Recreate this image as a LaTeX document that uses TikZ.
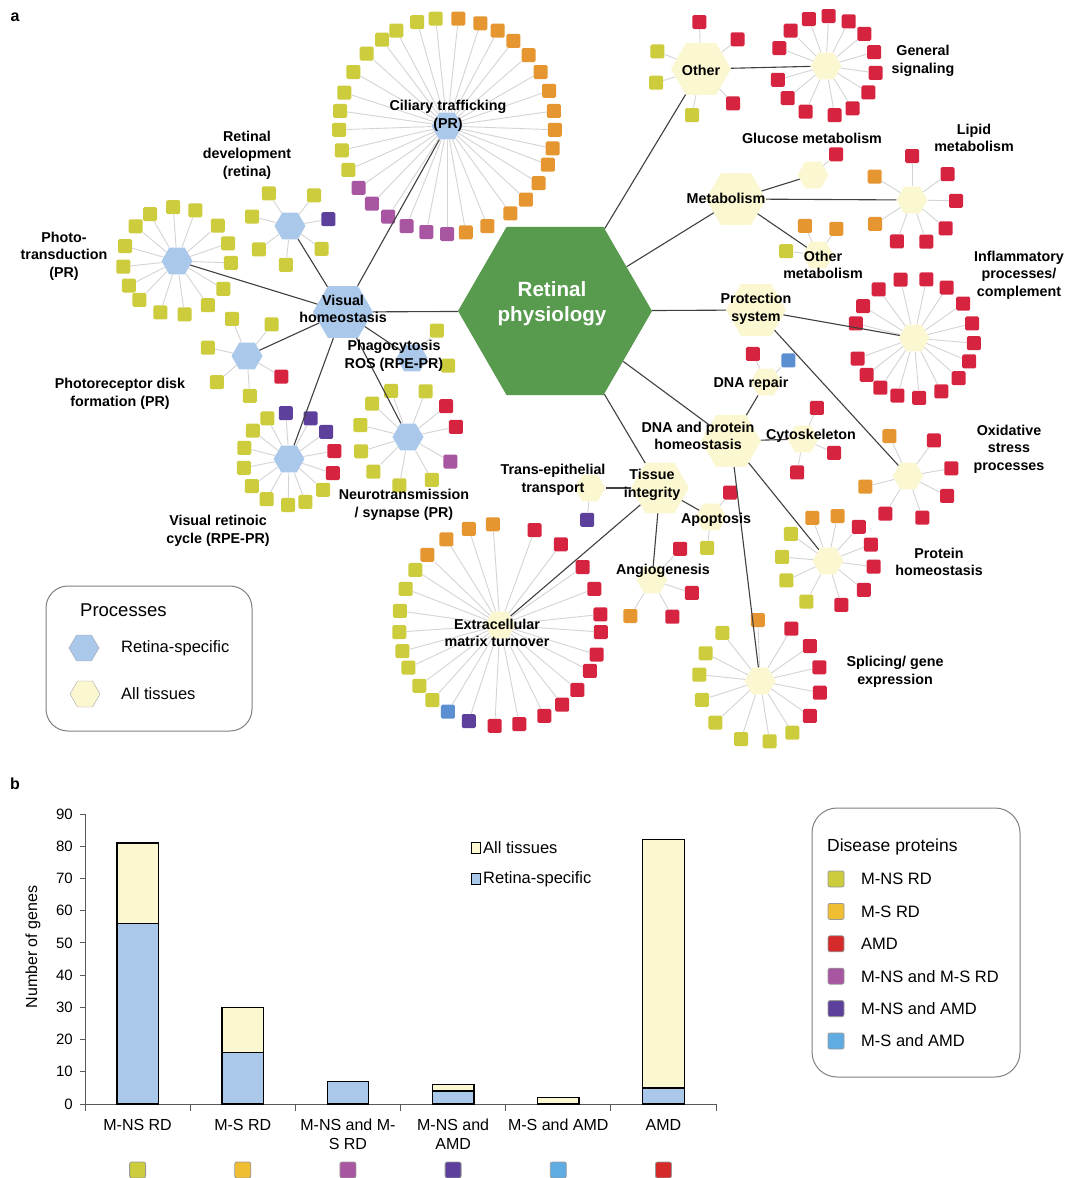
\documentclass[tikz,border=0pt]{standalone}
\usepackage{fontspec}
\setmainfont{Liberation Sans}
\usetikzlibrary{calc, shapes.geometric}

\definecolor{physgreen}{RGB}{88,154,78}
\definecolor{retblue}{RGB}{170,200,234}
\definecolor{alltis}{RGB}{251,247,208}
\definecolor{mns}{RGB}{204,204,60}
\definecolor{ms}{RGB}{230,150,48}
\definecolor{amd}{RGB}{214,36,64}
\definecolor{mnsms}{RGB}{168,86,162}
\definecolor{mnsamd}{RGB}{92,64,156}
\definecolor{msamd}{RGB}{92,142,210}
\definecolor{msl}{RGB}{240,190,50}
\definecolor{amdl}{RGB}{212,42,42}
\definecolor{msamdl}{RGB}{94,172,226}
\definecolor{spokegray}{RGB}{212,212,212}
\definecolor{linkgray}{RGB}{64,64,64}

\tikzset{
	hexa/.style={regular polygon, regular polygon sides=6, inner sep=0pt, minimum size=#1},
	hub/.style={hexa=60pt},
	sub/.style={hexa=31pt},
	rspec/.style={fill=retblue},
	allt/.style={fill=alltis},
	leaf/.style={rectangle, minimum size=14pt, inner sep=0pt, rounded corners=1.5pt},
	spoke/.style={draw=spokegray, line width=0.9pt},
	link/.style={draw=linkgray, line width=1.1pt},
	lbl/.style={font=\fontsize{14.3}{17.5}\selectfont\bfseries, align=center, inner sep=0pt},
	keytext/.style={font=\fontsize{16.5}{19}\selectfont, anchor=west, inner sep=0pt},
	swatch/.style={rectangle, minimum size=16pt, inner sep=0pt, rounded corners=2pt, draw=gray!80, line width=0.8pt},
	barseg/.style={draw=black, line width=1.3pt},
	axnum/.style={font=\fontsize{15}{17}\selectfont, inner sep=0pt},
	catlbl/.style={font=\fontsize{16}{18.5}\selectfont, align=center, inner sep=0pt, anchor=north}
}

% leaves round a process: hub, radius, angle/colour list
\newcommand{\leafset}[3]{%
	\foreach \a/\c [count=\i] in {#3} {
		\node[leaf, fill=\c] (#1-\i) at ($(#1)+(\a:#2)$) {};
		\draw[spoke] (#1) -- (#1-\i);
	}}

\begin{document}
\begin{tikzpicture}[x=1pt, y=-1pt]
	\fill[white] (0,0) rectangle (1077,1178);
	\useasboundingbox (0,0) rectangle (1077,1178);

	% processes
	\node[hexa=194pt, fill=physgreen] (phys) at (555,311) {};
	\node[hub, rspec] (vh) at (343,312) {};
	\node[hub, allt] (other) at (701,69) {};
	\node[hub, allt] (metab) at (736,199) {};
	\node[hub, allt] (prot) at (756,310) {};
	\node[hub, allt] (dnap) at (731,441) {};
	\node[hexa=58pt, allt] (tissue) at (660,488) {};

	\node[sub, rspec] (cil) at (447,126) {};
	\node[sub, rspec] (rdev) at (290,226) {};
	\node[sub, rspec] (photo) at (177,261) {};
	\node[sub, rspec] (disk) at (247,356) {};
	\node[sub, rspec] (cycle) at (289,459) {};
	\node[sub, rspec] (neuro) at (408,437) {};
	\node[sub, rspec] (phago) at (412,358) {};
	\node[sub, allt] (gensig) at (826,66) {};
	\node[sub, allt] (gluc) at (813,175) {};
	\node[sub, allt] (lipid) at (912,200) {};
	\node[sub, allt] (ometab) at (818,255) {};
	\node[sub, allt] (inflam) at (914,338) {};
	\node[sub, allt] (dnarep) at (766,382) {};
	\node[sub, allt] (cyto) at (803,439) {};
	\node[sub, allt] (oxid) at (908,476) {};
	\node[sub, allt] (protho) at (828,561) {};
	\node[sub, allt] (splice) at (760,681) {};
	\node[sub, allt] (trans) at (590,488) {};
	\node[sub, allt] (apop) at (711,517) {};
	\node[sub, allt] (angio) at (652,580) {};
	\node[sub, allt] (ecm) at (500,625) {};

	% disease proteins
	\leafset{cil}{108}{-84/ms, -72/ms, -62/ms, -52/ms, -41/ms, -30/ms, -19/ms, -8/ms, 2/ms, 12/ms, 21/ms, 32/ms, 43/ms, 54/ms, 68/ms, 80/ms, 90/mnsms, 101/mnsms, 112/mnsms, 123/mnsms, 134/mnsms, 145/mnsms, 156/mns, 167/mns, 178/mns, 188/mns, 198/mns, 210/mns, 222/mns, 233/mns, 242/mns, 254/mns, 264/mns}
	\leafset{rdev}{39}{-166/mns, -123/mns, -52/mns, -10/mnsamd, 36/mns, 96/mns, 143/mns}
	\leafset{photo}{54}{-94/mns, -70/mns, -41/mns, -19/mns, 2/mns, 31/mns, 55/mns, 82/mns, 108/mns, 134/mns, 153/mns, 174/mns, 196/mns, 220/mns, 240/mns}
	\leafset{disk}{40}{-112/mns, -52/mns, 31/amd, 86/mns, 139/mns, 192/mns}
	\leafset{cycle}{46}{-94/mnsamd, -62/mnsamd, -36/mnsamd, -10/amd, 18/amd, 42/mns, 69/mns, 91/mns, 119/mns, 144/mns, 169/mns, 194/mns, 218/mns, 242/mns}
	\leafset{neuro}{49}{-110/mns, -69/mns, -39/amd, -12/amd, 30/mnsms, 61/mns, 100/mns, 135/mns, 163/mns, 194/mns, 223/mns}
	\leafset{phago}{37}{-48/mns, 12/mns}
	\leafset{other}{47}{-92/amd, -39/amd, 47/amd, 101/mns, 163/mns, 202/mns}
	\leafset{gensig}{50}{-87/amd, -63/amd, -40/amd, -16/amd, 8/amd, 32/amd, 58/amd, 80/amd, 114/amd, 140/amd, 164/amd, 201/amd, 225/amd, 250/amd}
	\leafset{gluc}{31}{-42/amd}
	\leafset{lipid}{44}{-90/amd, -36/amd, 1/amd, 40/amd, 71/amd, 110/amd, 147/ms, 212/ms}
	\leafset{ometab}{32}{-114/ms, -55/ms, 187/mns}
	\leafset{inflam}{60}{-103/amd, -78/amd, -57/amd, -35/amd, -14/amd, 5/amd, 23/amd, 42/amd, 63/amd, 85/amd, 106/amd, 124/amd, 142/amd, 160/amd, 194/amd, 212/amd, 234/amd}
	\leafset{dnarep}{31}{-115/amd, -44/msamd}
	\leafset{cyto}{34}{-66/amd, 24/amd, 100/amd}
	\leafset{oxid}{44}{-115/ms, -54/amd, -10/amd, 27/amd, 71/amd, 121/amd, 166/ms}
	\leafset{protho}{46}{-110/ms, -78/ms, -48/amd, -21/amd, 7/amd, 39/amd, 73/amd, 118/mns, 155/mns, 185/mns, 216/mns}
	\leafset{splice}{61}{-92/ms, -59/amd, -35/amd, -13/amd, 11/amd, 35/amd, 58/mns, 81/mns, 108/mns, 137/mns, 162/mns, 186/mns, 207/mns, 232/mns}
	\leafset{trans}{32}{95/mnsamd}
	\leafset{apop}{31}{-52/amd, 97/mns}
	\leafset{angio}{42}{-48/amd, 18/amd, 61/amd, 121/ms}
	\leafset{ecm}{101}{-94/ms, -108/ms, -122/ms, -136/ms, -147/mns, -159/mns, -172/mns, 176/mns, 165/mns, 155/mns, 143/mns, 132/mns, 121/msamd, 108/mnsamd, 93/amd, 79/amd, 64/amd, 52/amd, 40/amd, 27/amd, 17/amd, 4/amd, -6/amd, -21/amd, -35/amd, -53/amd, -70/amd}

	% links between processes
	\foreach \p/\q in {phys/vh, phys/other, phys/metab, phys/prot, phys/dnap, phys/tissue,
		vh/cil, vh/rdev, vh/photo, vh/disk, vh/cycle, vh/neuro, vh/phago,
		other/gensig, metab/gluc, metab/lipid, metab/ometab, prot/inflam, prot/oxid,
		dnap/dnarep, dnap/cyto, dnap/protho, dnap/splice,
		tissue/trans, tissue/apop, tissue/angio, tissue/ecm}
		\draw[link] (\p) -- (\q);

	% labels
	\node[font=\fontsize{16}{18}\selectfont\bfseries] (pa) at (15,17) {a};
	\node[lbl, text=white, font=\fontsize{20.6}{25}\selectfont\bfseries] (phys-t) at (552,304) {Retinal\\physiology};
	\node[lbl] (cil-t) at (448,116) {Ciliary trafficking\\(PR)};
	\node[lbl] (rdev-t) at (247,155) {Retinal\\development\\(retina)};
	\node[lbl] (photo-t) at (64,256) {Photo-\\transduction\\(PR)};
	\node[lbl] (vh-t) at (343,309) {Visual\\homeostasis};
	\node[lbl] (phago-t) at (394,356) {Phagocytosis\\ROS (RPE-PR)};
	\node[lbl] (disk-t) at (120,394) {Photoreceptor disk\\formation (PR)};
	\node[lbl] (neuro-t) at (404,505) {Neurotransmission\\/ synapse (PR)};
	\node[lbl] (cycle-t) at (218,531) {Visual retinoic\\cycle (RPE-PR)};
	\node[lbl] (other-t) at (701,70) {Other};
	\node[lbl] (gensig-t) at (923,61) {General\\signaling};
	\node[lbl] (gluc-t) at (812,138) {Glucose metabolism};
	\node[lbl] (lipid-t) at (974,138) {Lipid\\metabolism};
	\node[lbl] (metab-t) at (726,198) {Metabolism};
	\node[lbl] (ometab-t) at (823,265) {Other\\metabolism};
	\node[lbl] (inflam-t) at (1019,275) {Inflammatory\\processes/\\complement};
	\node[lbl] (prot-t) at (756,309) {Protection\\system};
	\node[lbl] (dnarep-t) at (751,384) {DNA repair};
	\node[lbl] (dnap-t) at (698,436) {DNA and protein\\homeostasis};
	\node[lbl] (cyto-t) at (811,436) {Cytoskeleton};
	\node[lbl] (oxid-t) at (1009,449) {Oxidative\\stress\\processes};
	\node[lbl] (trans-t) at (553,480) {Trans-epithelial\\transport};
	\node[lbl] (tissue-t) at (652,485) {Tissue\\integrity};
	\node[lbl] (apop-t) at (716,520) {Apoptosis};
	\node[lbl] (angio-t) at (663,571) {Angiogenesis};
	\node[lbl] (protho-t) at (939,562) {Protein\\homeostasis};
	\node[lbl] (ecm-t) at (497,633) {Extracellular\\matrix turnover};
	\node[lbl] (splice-t) at (895,672) {Splicing/ gene\\expression};

	% processes key
	\draw[gray, line width=1pt, rounded corners=22pt] (46,586) rectangle (252,731);
	\node[keytext, font=\fontsize{18.5}{21}\selectfont] (proc-t) at (80,610) {Processes};
	\node[hexa=30pt, rspec, draw=gray!70] (key-rs) at (84,648) {};
	\node[keytext] (key-rs-t) at (121,648) {Retina-specific};
	\node[hexa=30pt, allt, draw=gray!70] (key-at) at (85,694) {};
	\node[keytext] (key-at-t) at (121,694) {All tissues};

	% panel b
	\node[font=\fontsize{16}{18}\selectfont\bfseries] (pb) at (15,784) {b};
	\draw[line width=0.9pt, gray!70!black] (85,814) -- (85,1104) -- (716,1104);
	\foreach \v in {0,10,...,90} {
		\draw[line width=0.9pt, gray!70!black] (80,{1104-3.222*\v}) -- (85,{1104-3.222*\v});
		\node[axnum, anchor=east] (num\v) at (73,{1104-3.222*\v}) {\v};
	}
	\foreach \k in {0,...,6}
		\draw[line width=0.9pt, gray!70!black] ({85+105.17*\k},1104) -- ++(0,7);
	\foreach \r/\t [count=\i from 0] in {56/81, 16/30, 7/7, 4/6, 0/2, 5/82} {
		\draw[barseg, fill=retblue] ({137.6+105.17*\i-20.75},1104) rectangle ({137.6+105.17*\i+20.75},{1104-3.222*\r});
		\draw[barseg, fill=alltis] ({137.6+105.17*\i-20.75},{1104-3.222*\r}) rectangle ({137.6+105.17*\i+20.75},{1104-3.222*\t});
	}
	\foreach \txt [count=\i from 0] in {M-NS RD, M-S RD, {M-NS and M-\\S RD}, {M-NS and\\AMD}, M-S and AMD, AMD}
		\node[catlbl] (cat\i) at ({137.6+105.17*\i},1119) {\txt};
	\foreach \c [count=\i from 0] in {mns, msl, mnsms, mnsamd, msamdl, amdl}
		\node[swatch, fill=\c] (sw\i) at ({137.6+105.17*\i},1170) {};
	\node[rotate=90, font=\fontsize{16}{18}\selectfont, inner sep=0pt] (ylab) at (33,947) {Number of genes};
	\node[rectangle, draw=black, fill=alltis, minimum width=9pt, minimum height=11pt, inner sep=0pt, line width=0.8pt] (lg-at) at (476,848) {};
	\node[keytext] (lg-at-t) at (483,848) {All tissues};
	\node[rectangle, draw=black, fill=retblue, minimum width=9pt, minimum height=11pt, inner sep=0pt, line width=0.8pt] (lg-rs) at (476,879) {};
	\node[keytext] (lg-rs-t) at (483,879) {Retina-specific};

	% disease proteins key
	\draw[gray, line width=1pt, rounded corners=25pt] (812,808) rectangle (1020,1077);
	\node[keytext, font=\fontsize{17.5}{20}\selectfont] (dis-t) at (827,847) {Disease proteins};
	\foreach \c/\txt [count=\i from 0] in {mns/M-NS RD, msl/M-S RD, amdl/AMD, mnsms/M-NS and M-S RD, mnsamd/M-NS and AMD, msamdl/M-S and AMD} {
		\node[swatch, fill=\c] (dk\i) at (836,{879+32.4*\i}) {};
		\node[keytext] (dk\i-t) at (861,{879+32.4*\i}) {\txt};
	}
\end{tikzpicture}
\end{document}
